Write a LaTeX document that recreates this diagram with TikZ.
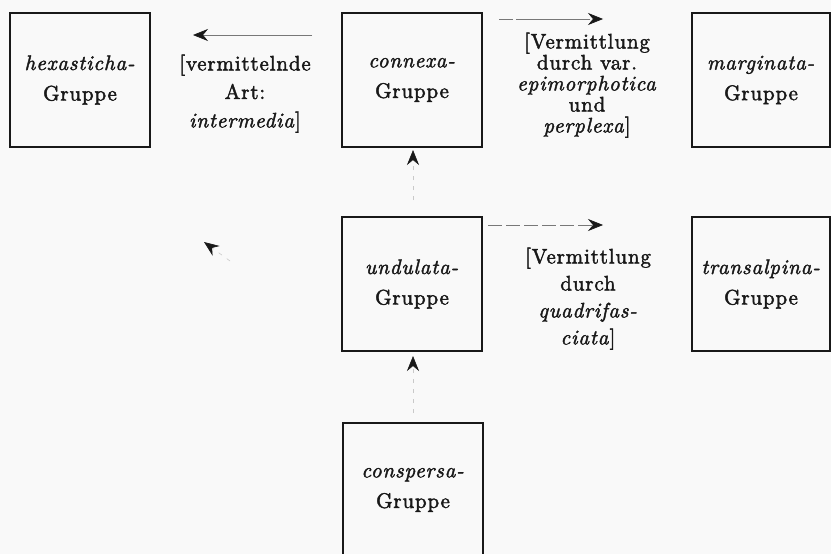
\documentclass[tikz,border=0pt]{standalone}
\usepackage{fontspec}
\setmainfont{lmroman10-regular.otf}[ItalicFont=lmroman10-italic.otf, LetterSpace=4, FakeBold=2]
\usetikzlibrary{arrows.meta}
\definecolor{paper}{RGB}{249,249,249}
\definecolor{ink}{RGB}{25,25,25}
\definecolor{faint}{RGB}{120,120,120}
\tikzset{
  grp/.style={draw=ink, line width=1.9pt, minimum width=140pt, minimum height=134pt, inner sep=0pt, align=center, text=ink, font=\fontsize{21}{30.5}\selectfont},
  lbl/.style={inner sep=0pt, align=center, anchor=north, text=ink},
  tip/.style={-{Stealth[length=15pt,width=12pt,inset=5pt,color=ink]}},
  conn/.style={tip, draw=faint, line width=0.7pt},
  weak/.style={tip, draw=faint!40, line width=0.6pt, dash pattern=on 4pt off 6pt}
}
\begin{document}
\begin{tikzpicture}[x=1pt,y=-1pt]
\fill[paper] (0,0) rectangle (831,554);
\useasboundingbox (0,0) rectangle (831,554);
\clip (0,0) rectangle (831,554);
% group boxes
\node[grp] (hex) at (80,80) {\textit{hexasticha-}\\Gruppe};
\node[grp] (con) at (412,80) {\textit{connexa-}\\Gruppe};
\node[grp, minimum width=138pt] (mar) at (761,80) {\textit{marginata-}\\Gruppe};
\node[grp] (und) at (412,284) {\textit{undulata-}\\Gruppe};
\node[grp, minimum width=138pt] (tra) at (761,284) {\textit{transalpina-}\\Gruppe};
\node[grp] (csp) at (413,490) {\textit{conspersa-}\\Gruppe};
% labels
\node[lbl, font=\fontsize{21}{28.5}\selectfont] (l1) at (245,54.5) {[vermittelnde\\Art:\\\textit{intermedia}]};
\node[lbl, font=\fontsize{21}{21}\selectfont] (l2) at (587,32.5) {[Vermittlung\\durch var.\\\textit{epimorphotica}\\und\\\textit{perplexa}]};
\node[lbl, font=\fontsize{21}{27}\selectfont] (l3) at (588,247.5) {[Vermittlung\\durch\\\textit{quadrifas-}\\\textit{ciata}]};
% arrow ends
\coordinate (a1s) at (312,35);  \coordinate (a1e) at (193,35);
\coordinate (a2s) at (499,19);  \coordinate (a2e) at (603,19);
\coordinate (a3s) at (488,225); \coordinate (a3e) at (603,225);
\coordinate (a4s) at (413,200); \coordinate (a4e) at (413,150);
\coordinate (a5s) at (413,413); \coordinate (a5e) at (413,356);
\coordinate (a6s) at (230,261); \coordinate (a6e) at (204,242);
% connectors
\draw[conn] (a1s) -- (a1e);
\draw[conn, dash pattern=on 14pt off 3pt on 60pt off 0pt] (a2s) -- (a2e);
\draw[conn, dash pattern=on 14pt off 4pt] (a3s) -- (a3e);
\draw[weak] (a4s) -- (a4e);
\draw[weak] (a5s) -- (a5e);
\draw[weak] (a6s) -- (a6e);
\end{tikzpicture}
\end{document}
